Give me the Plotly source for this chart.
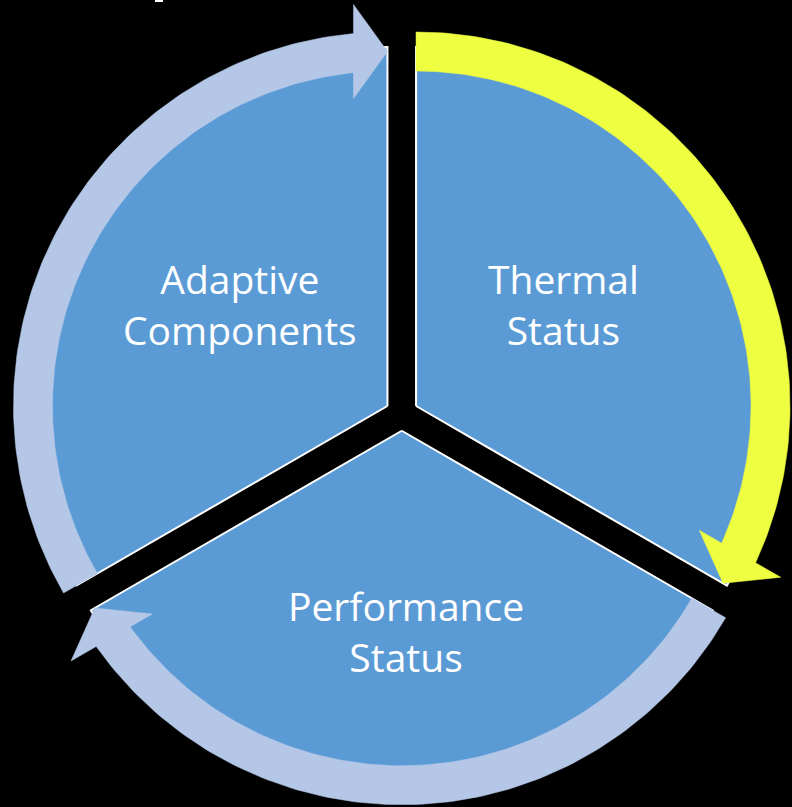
import numpy as np
import plotly.graph_objects as go

# Cycle stages, listed clockwise from 12 o'clock
stages = ["Thermal Status", "Performance Status", "Adaptive Components"]
shares = [1, 1, 1]                      # equal segments of the cycle
highlighted = [True, False, False]      # which stage's arrow is emphasised

# ---- layout / style constants (pixels) ----
W, H = 792, 807
HUB = (401.75, 414.25)      # common centre of the segmented disc
EXPLODE = 16.5              # how far each segment is pushed out from the hub
R_SECTOR = 359
R_IN, R_OUT = 335, 374      # arrow band
HEAD_LEN, HEAD_HALF = 34, 47
START_ANGLE = 90
LABEL_XY = [(563, 304), (406, 631), (240, 304)]
FONT = "Open Sans"
FONT_SIZE = 39

BG = "#000000"
SECTOR_FILL = "#5B9BD5"
ARROW_FILL = "#B4C7E7"
ARROW_HI = "#EEFF41"


def pt(c, r, a_deg):
    a = np.radians(a_deg)
    return c[0] + r * np.cos(a), c[1] - r * np.sin(a)


def arc(c, r, a_from, a_to, n=120):
    angs = np.linspace(a_from, a_to, n)
    xs, ys = pt(c, r, angs)
    return list(xs), list(ys)


fig = go.Figure()
total = float(sum(shares))
spans = [360.0 * s / total for s in shares]
starts = START_ANGLE - np.concatenate([[0], np.cumsum(spans)[:-1]])

sector_traces = []
arrow_traces = []
for stage, span, a0, hi in zip(stages, spans, starts, highlighted):
    a1 = a0 - span
    bis = (a0 + a1) / 2.0
    apex = pt(HUB, EXPLODE, bis)

    # segment of the disc
    ax, ay = arc(apex, R_SECTOR, a0, a1)
    sector_traces.append(go.Scatter(
        x=[apex[0]] + ax + [apex[0]], y=[apex[1]] + ay + [apex[1]],
        mode="lines", fill="toself", fillcolor=SECTOR_FILL,
        line=dict(color="#FFFFFF", width=2), hoverinfo="skip", showlegend=False,
    ))

    # curved arrow running clockwise around the segment
    r_mid = (R_IN + R_OUT) / 2.0
    tip = pt(apex, r_mid, a1)
    ar = np.radians(a1)
    u_rad = np.array([np.cos(ar), -np.sin(ar)])
    u_tan = np.array([np.sin(ar), np.cos(ar)])   # direction of travel
    base = np.array(tip) - HEAD_LEN * u_tan
    barb_out = base + HEAD_HALF * u_rad
    barb_in = base - HEAD_HALF * u_rad
    d_out = np.degrees(np.arcsin(HEAD_LEN / R_OUT))
    d_in = np.degrees(np.arcsin(HEAD_LEN / R_IN))
    ox, oy = arc(apex, R_OUT, a0, a1 + d_out)
    ix, iy = arc(apex, R_IN, a1 + d_in, a0)
    xs = ox + [barb_out[0], tip[0], barb_in[0]] + ix + [ox[0]]
    ys = oy + [barb_out[1], tip[1], barb_in[1]] + iy + [oy[0]]
    col = ARROW_HI if hi else ARROW_FILL
    arrow_traces.append(go.Scatter(
        x=xs, y=ys, mode="lines", fill="toself", fillcolor=col,
        line=dict(color=col, width=0.5), hoverinfo="skip", showlegend=False,
    ))

for tr in sector_traces + arrow_traces:
    fig.add_trace(tr)

annotations = []
for stage, (lx, ly) in zip(stages, LABEL_XY):
    annotations.append(dict(
        x=lx, y=ly, xref="x", yref="y", text="<br>".join(stage.split(" ")),
        showarrow=False, xanchor="center", yanchor="middle", align="center",
        font=dict(family=FONT, size=FONT_SIZE, color="#FFFFFF"),
    ))

fig.update_layout(
    width=W, height=H,
    margin=dict(l=0, r=0, t=0, b=0),
    paper_bgcolor=BG, plot_bgcolor=BG,
    xaxis=dict(range=[0, W], visible=False, fixedrange=True),
    yaxis=dict(range=[H, 0], visible=False, fixedrange=True),
    annotations=annotations,
    shapes=[dict(type="rect", xref="x", yref="y", x0=155, x1=163, y0=0, y1=2,
                 fillcolor="#FFFFFF", line=dict(width=0))],
    showlegend=False,
)

fig.write_html("out.html", config={"displayModeBar": False})
